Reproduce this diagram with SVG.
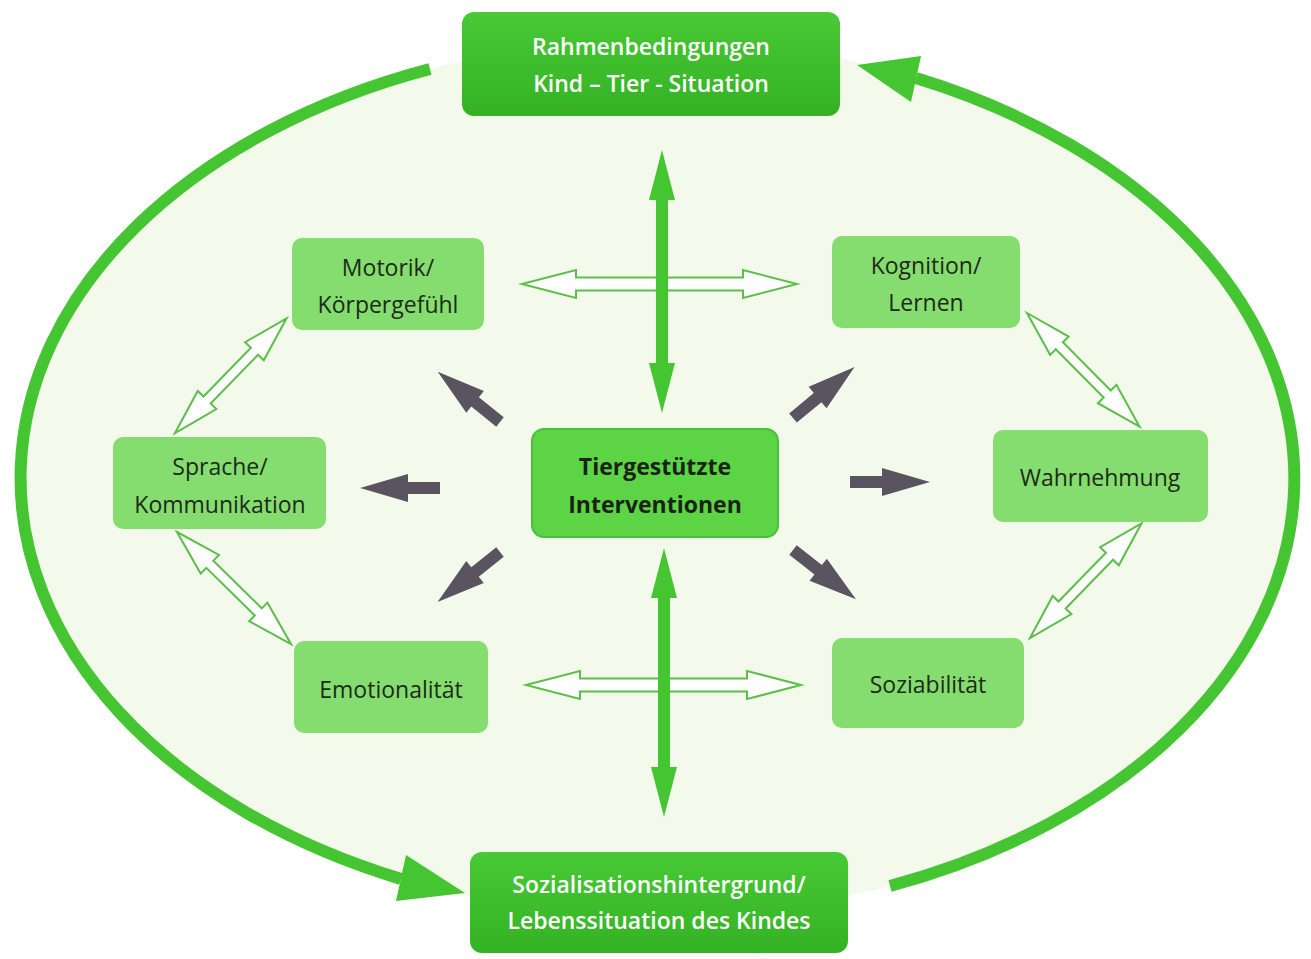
<svg xmlns="http://www.w3.org/2000/svg" width="1311" height="959" viewBox="0 0 1311 959">
  <defs>
    <linearGradient id="gDark" x1="0" y1="0" x2="0" y2="1">
      <stop offset="0" stop-color="#48c935"/>
      <stop offset="1" stop-color="#34b224"/>
    </linearGradient>
    <path id="hollowH" d="M0,0 L54,-14 L54,-6.5 L221,-6.5 L221,-14 L275,0 L221,14 L221,6.5 L54,6.5 L54,14 Z"/>
    <path id="hollowD" d="M0,0 L46,-13 L46,-5 L114,-5 L114,-13 L160,0 L114,13 L114,5 L46,5 L46,13 Z"/>
    <path id="grayA" d="M0,-6 L32,-6 L32,-14 L80,0 L32,14 L32,6 L0,6 Z"/>
  </defs>
  <style>
    .dark { fill: url(#gDark); }
    .light { fill: #84dd6e; }
    .center { fill: #5dd446; stroke: #4abf38; stroke-width: 2; }
    .wt { font-family: "Open Sans", "Noto Sans", sans-serif; font-size: 23px; font-weight: 600; fill: #ffffff; text-anchor: middle; }
    .nt { font-family: "Open Sans", "Noto Sans", sans-serif; font-size: 23px; fill: #1e2a1a; text-anchor: middle; }
    .ct { font-family: "Open Sans", "Noto Sans", sans-serif; font-size: 23px; font-weight: 700; fill: #1a2216; text-anchor: middle; }
    .hollow { fill: #ffffff; stroke: #5cbf48; stroke-width: 2; stroke-linejoin: miter; }
    .gray { fill: #5a5461; }
    .vert { fill: #46c532; }
    .arc { fill: none; stroke: #46c532; stroke-width: 12; }
    .arcHead { fill: #46c532; }
  </style>

  <rect x="0" y="0" width="1311" height="959" fill="#ffffff"/>
  <ellipse cx="658" cy="478" rx="637" ry="438" fill="#f3faeb"/>

  <g id="connectors">
    <path class="arc" d="M430,69 A637,438 0 0 0 401,879"/>
    <polygon class="arcHead" points="465,893 406,855 396,901"/>
    <path class="arc" d="M890,886 A637,438 0 0 0 916,78"/>
    <polygon class="arcHead" points="857,65 921,56 911,102"/>

    <use href="#hollowH" class="hollow" transform="translate(522,284)"/>
    <use href="#hollowH" class="hollow" transform="translate(526,685)"/>
    <use href="#hollowD" class="hollow" transform="translate(175,433) rotate(-45.8)"/>
    <use href="#hollowD" class="hollow" transform="translate(177,532) rotate(44.5)"/>
    <use href="#hollowD" class="hollow" transform="translate(1027,313) rotate(45.3)"/>
    <use href="#hollowD" class="hollow" transform="translate(1030,638) rotate(-45.8)"/>

    <path class="vert" d="M662,150 L675,200 L668,200 L668,363 L675,363 L662,413 L649,363 L656,363 L656,200 L649,200 Z"/>
    <path class="vert" d="M664,548 L677,598 L670,598 L670,767 L677,767 L664,817 L651,767 L658,767 L658,598 L651,598 Z"/>

    <use href="#grayA" class="gray" transform="translate(500,422) rotate(-141.1)"/>
    <use href="#grayA" class="gray" transform="translate(793,418) rotate(-39.7)"/>
    <use href="#grayA" class="gray" transform="translate(440,488) rotate(180)"/>
    <use href="#grayA" class="gray" transform="translate(850,482)"/>
    <use href="#grayA" class="gray" transform="translate(500,552) rotate(141.3)"/>
    <use href="#grayA" class="gray" transform="translate(793,550) rotate(38.1)"/>
  </g>

  <g id="rahmen">
    <rect class="dark" x="462" y="12" width="378" height="104" rx="12"/>
    <text class="wt" x="651" y="55">Rahmenbedingungen</text>
    <text class="wt" x="651" y="92">Kind – Tier - Situation</text>
  </g>

  <g id="sozialisation">
    <rect class="dark" x="470" y="852" width="378" height="101" rx="12"/>
    <text class="wt" x="659" y="893">Sozialisationshintergrund/</text>
    <text class="wt" x="659" y="929">Lebenssituation des Kindes</text>
  </g>

  <g id="center">
    <rect class="center" x="532" y="429" width="246" height="108" rx="12"/>
    <text class="ct" x="655" y="475">Tiergestützte</text>
    <text class="ct" x="655" y="513">Interventionen</text>
  </g>

  <g id="motorik">
    <rect class="light" x="292" y="238" width="192" height="92" rx="10"/>
    <text class="nt" x="388" y="276">Motorik/</text>
    <text class="nt" x="388" y="313">Körpergefühl</text>
  </g>

  <g id="kognition">
    <rect class="light" x="832" y="236" width="188" height="92" rx="10"/>
    <text class="nt" x="926" y="274">Kognition/</text>
    <text class="nt" x="926" y="311">Lernen</text>
  </g>

  <g id="sprache">
    <rect class="light" x="113" y="437" width="213" height="92" rx="10"/>
    <text class="nt" x="220" y="475">Sprache/</text>
    <text class="nt" x="220" y="513">Kommunikation</text>
  </g>

  <g id="wahrnehmung">
    <rect class="light" x="993" y="430" width="215" height="92" rx="10"/>
    <text class="nt" x="1100" y="486">Wahrnehmung</text>
  </g>

  <g id="emotionalitaet">
    <rect class="light" x="294" y="641" width="194" height="92" rx="10"/>
    <text class="nt" x="391" y="698">Emotionalität</text>
  </g>

  <g id="soziabilitaet">
    <rect class="light" x="832" y="638" width="192" height="90" rx="10"/>
    <text class="nt" x="928" y="693">Soziabilität</text>
  </g>
</svg>
